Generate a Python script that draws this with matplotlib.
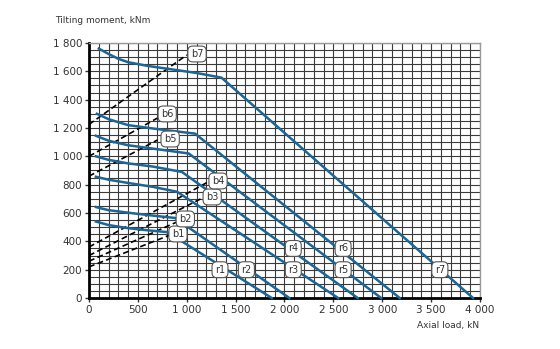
import matplotlib.pyplot as plt
import numpy as np

# rated curves r1..r7 (axial load kN, tilting moment kNm)
r_x = [
    [70, 200, 400, 600, 800, 1870],
    [70, 200, 450, 650, 880, 2050],
    [70, 200, 400, 650, 900, 2550],
    [70, 200, 400, 650, 950, 2750],
    [70, 200, 400, 700, 1020, 2990],
    [80, 200, 400, 700, 1085, 3180],
    [100, 200, 300, 400, 600, 800, 1100, 1355, 3930],
]
r_y = [
    [540, 515, 493, 478, 465, 0],
    [642, 620, 598, 582, 565, 0],
    [856, 835, 812, 785, 750, 0],
    [1000, 975, 950, 928, 890, 0],
    [1145, 1110, 1078, 1050, 1020, 0],
    [1300, 1262, 1220, 1192, 1160, 0],
    [1760, 1722, 1688, 1664, 1638, 1618, 1588, 1555, 0],
]
r_names = ['r1', 'r2', 'r3', 'r4', 'r5', 'r6', 'r7']
r_lab_x = [1340, 1610, 2090, 2090, 2600, 2600, 3590]
r_lab_y = [200, 200, 200, 350, 200, 350, 200]

# bolt curves b1..b7 (start on y axis, end at label)
b_x0 = [0, 0, 0, 0, 0, 0, 0]
b_y0 = [220, 260, 300, 360, 860, 1000, 1225]
b_x1 = [830, 900, 1160, 1215, 700, 700, 1000]
b_y1 = [445, 537, 706, 818, 1115, 1270, 1715]
b_names = ['b1', 'b2', 'b3', 'b4', 'b5', 'b6', 'b7']
b_lab_x = [910, 985, 1260, 1320, 830, 800, 1105]
b_lab_y = [452, 558, 713, 826, 1122, 1299, 1722]

x_ticks = [0, 500, 1000, 1500, 2000, 2500, 3000, 3500, 4000]
x_labels = ['0', '500', '1 000', '1 500', '2 000', '2 500', '3 000', '3 500', '4 000']
y_ticks = [0, 200, 400, 600, 800, 1000, 1200, 1400, 1600, 1800]
y_labels = ['0', '200', '400', '600', '800', '1 000', '1 200', '1 400', '1 600', '1 800']

fig = plt.figure(figsize=(5.6, 3.49), dpi=100)
ax = fig.add_axes([0.159, 0.146, 0.698, 0.731])

ax.set_xlim(0, 4000)
ax.set_ylim(0, 1800)
ax.set_xticks(np.arange(0, 4001, 100), minor=True)
ax.set_yticks(np.arange(0, 1801, 50), minor=True)
ax.grid(which='both', color='#3a3a3a', lw=0.8)
ax.set_axisbelow(True)
ax.set_xticks(x_ticks)
ax.set_xticklabels(x_labels)
ax.set_yticks(y_ticks)
ax.set_yticklabels(y_labels)
ax.tick_params(which='minor', length=0)
ax.tick_params(which='major', length=3, width=1, labelsize=7.5, colors='#333333', pad=2)

for s in ['top', 'right']:
    ax.spines[s].set_color('#999999')
    ax.spines[s].set_linewidth(1)
for s in ['left', 'bottom']:
    ax.spines[s].set_color('black')
    ax.spines[s].set_linewidth(2)

box = dict(boxstyle='round,pad=0.3,rounding_size=0.5', fc='white', ec='#555555', lw=0.8)

for i in range(7):
    ax.plot([b_x0[i], b_x1[i]], [b_y0[i], b_y1[i]], color='black', lw=1.2,
            dashes=(3.5, 2), zorder=3)
    ax.text(b_lab_x[i], b_lab_y[i], b_names[i], fontsize=7, color='#333333',
            ha='center', va='center', bbox=box, zorder=5)

for i in range(7):
    ax.plot(r_x[i], r_y[i], color='#1d6592', lw=1.8, zorder=4, clip_on=False)
    ax.text(r_lab_x[i], r_lab_y[i], r_names[i], fontsize=7, color='#333333',
            ha='center', va='center', bbox=box, zorder=5)

fig.text(0.098, 0.942, 'Tilting moment, kNm', fontsize=6.5, color='#333333',
         ha='left', va='center')
fig.text(0.855, 0.068, 'Axial load, kN', fontsize=6.5, color='#333333',
         ha='right', va='center')

fig.savefig('out.png', dpi=100)
